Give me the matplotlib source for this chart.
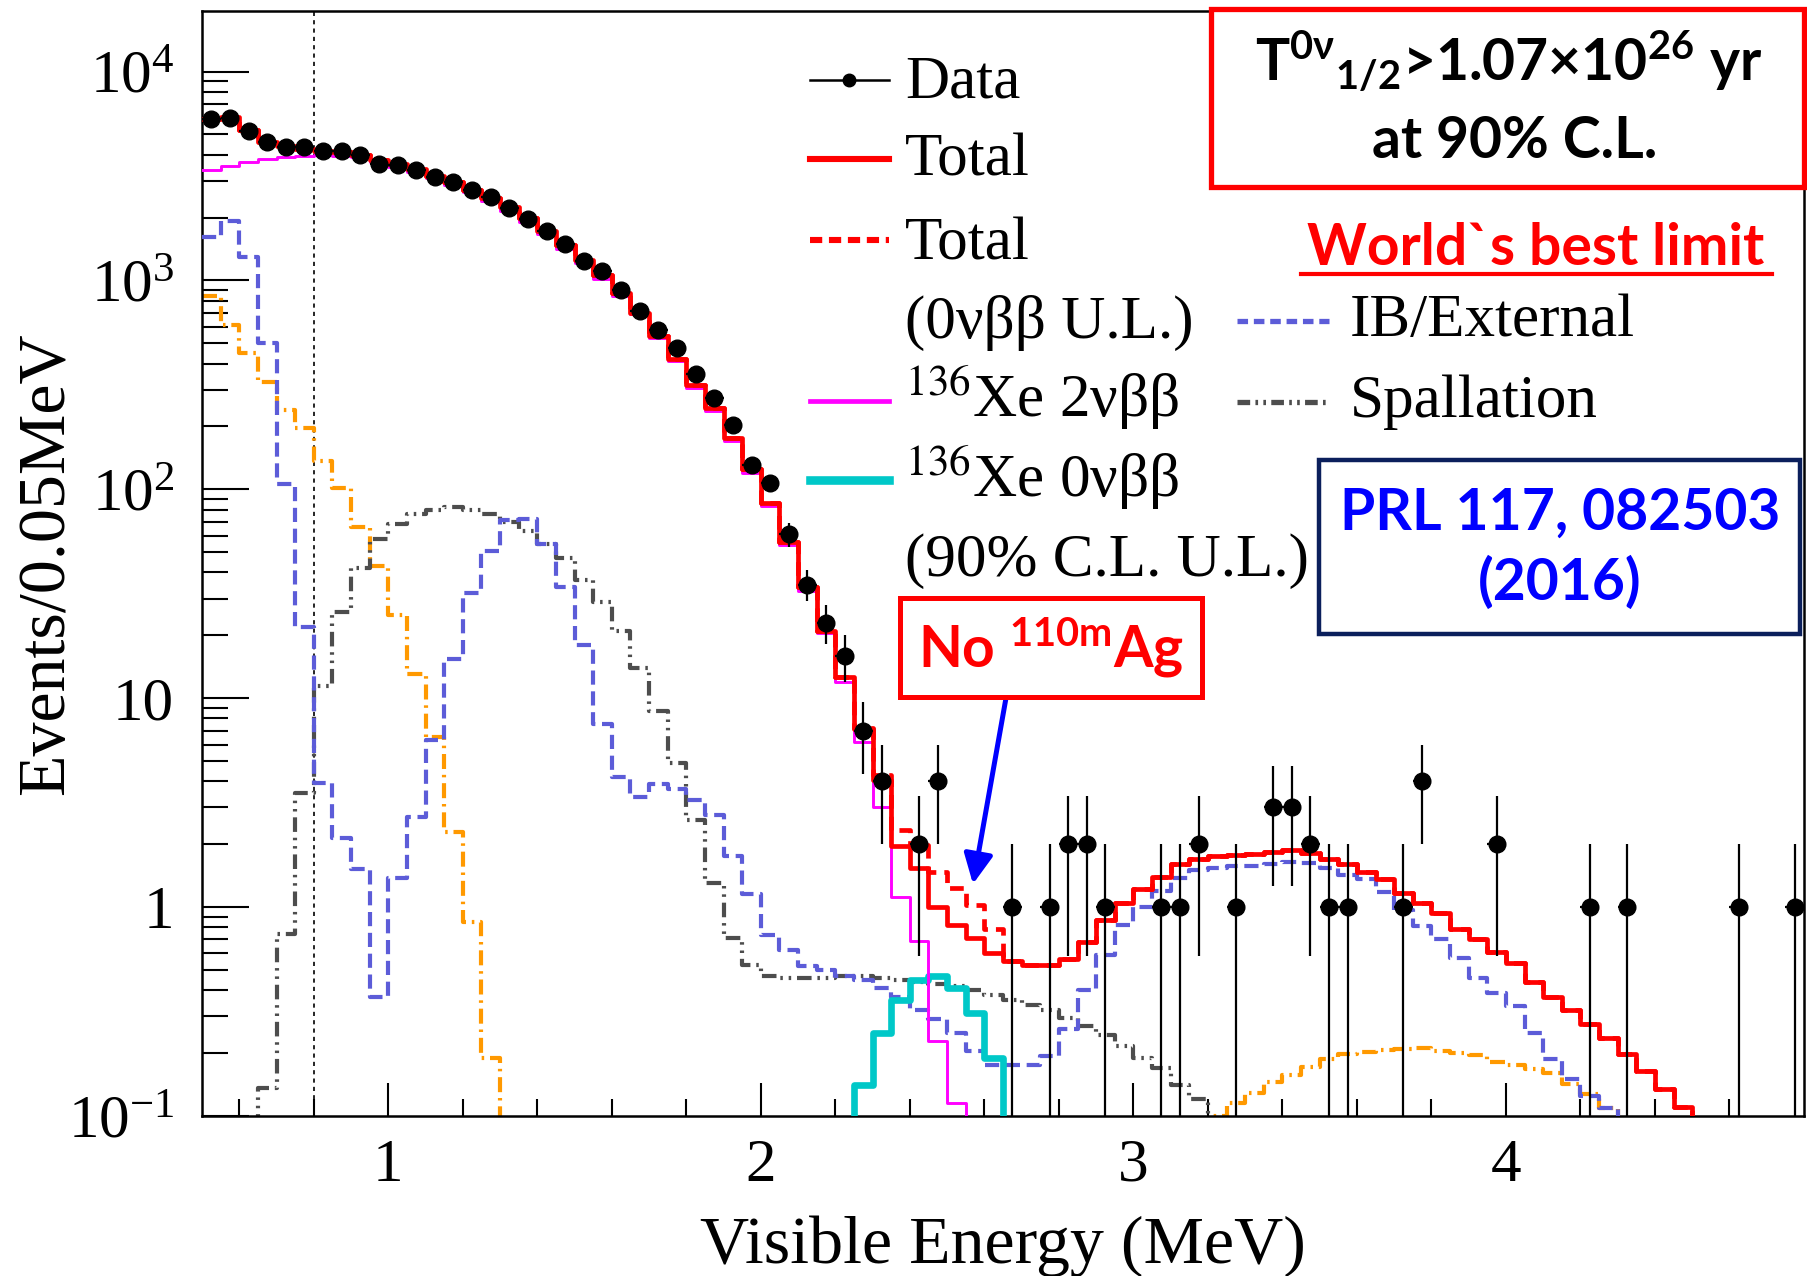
import numpy as np
import matplotlib.pyplot as plt
from matplotlib.lines import Line2D
from matplotlib.patches import Rectangle
from matplotlib.ticker import LogLocator, NullFormatter

plt.rcParams['font.family'] = ['Liberation Serif', 'DejaVu Serif']
plt.rcParams['mathtext.fontset'] = 'stix'

W, H = 1808, 1276

# --- binning ---
bin_width = 0.05
e_lo, e_hi = 0.5, 4.8

# --- data: counts per 0.05 MeV bin from 0.5 to 4.8 MeV ---
data_counts = [5930, 6010, 5220, 4590, 4370, 4340, 4180, 4160, 4000, 3620,
               3580, 3390, 3140, 2950, 2710, 2500, 2220, 1970, 1730, 1500,
               1240, 1110, 898, 718, 580, 474, 355, 275, 203, 131,
               107, 61, 35, 23, 16, 7, 4, 0, 2, 4,
               0, 0, 0, 1, 0, 1, 2, 2, 1, 0,
               0, 1, 1, 2, 0, 1, 0, 3, 3, 2,
               1, 1, 0, 0, 1, 4, 0, 0, 0, 2,
               0, 0, 0, 0, 1, 0, 1, 0, 0, 0,
               0, 0, 1, 0, 0, 1]

# --- model histograms (first bin edge, values) ---
total_start = 0.5
total_vals = [5900, 6050, 5250, 4600, 4400, 4250, 4180, 4120, 4000, 3780,
              3600, 3400, 3180, 2950, 2720, 2480, 2240, 1980, 1730, 1480,
              1260, 1060, 870, 700, 545, 421, 315, 246, 176, 125,
              86, 56, 34, 21, 12.7, 7.1, 4.05, 1.97, 1.54, 1.0,
              0.82, 0.71, 0.60, 0.55, 0.53, 0.53, 0.565, 0.68, 0.87, 1.05,
              1.22, 1.39, 1.6, 1.7, 1.75, 1.78, 1.8, 1.83, 1.87, 1.82,
              1.7, 1.6, 1.48, 1.37, 1.17, 1.05, 0.94, 0.79, 0.70, 0.61,
              0.54, 0.44, 0.37, 0.32, 0.276, 0.237, 0.199, 0.164, 0.134, 0.111]

xe2nu_start = 0.5
xe2nu_vals = [3380, 3540, 3680, 3800, 3880, 3950, 3980, 3960, 3880, 3700,
              3510, 3320, 3100, 2870, 2640, 2400, 2160, 1900, 1660, 1420,
              1210, 1020, 845, 690, 530, 410, 305, 238, 170, 120,
              83, 54, 32.5, 20.5, 12.0, 6.2, 3.0, 1.12, 0.69, 0.228,
              0.116]

xe0nu_start = 2.25
xe0nu_vals = [0.14, 0.25, 0.36, 0.45, 0.47, 0.41, 0.31, 0.19]

ib_start = 0.5
ib_vals = [1610, 1930, 1300, 500, 106, 22, 3.94, 2.14, 1.52, 0.37,
           1.38, 2.69, 6.3, 15.4, 31.8, 50.5, 71.4, 72, 54.7, 34,
           17.9, 7.5, 4.2, 3.38, 3.9, 3.66, 3.25, 2.75, 1.75, 1.15,
           0.735, 0.62, 0.52, 0.5, 0.47, 0.45, 0.41, 0.37, 0.32, 0.29,
           0.25, 0.204, 0.176, 0.176, 0.176, 0.193, 0.26, 0.40, 0.59, 0.82,
           1.0, 1.19, 1.38, 1.51, 1.54, 1.57, 1.57, 1.6, 1.64, 1.62,
           1.54, 1.43, 1.36, 1.18, 0.97, 0.81, 0.70, 0.57, 0.46, 0.39,
           0.335, 0.25, 0.187, 0.15, 0.124, 0.109]

spall_start = 0.65
spall_vals = [0.136, 0.74, 3.5, 11.5, 26, 42, 58,
              68, 76, 80, 82, 80, 76, 70, 63, 55, 47,
              37, 29, 21, 14, 8.7, 4.9, 2.6, 1.3, 0.71, 0.53,
              0.47, 0.46, 0.46, 0.46, 0.47, 0.47, 0.46, 0.45, 0.44, 0.43,
              0.42, 0.40, 0.38, 0.36, 0.34, 0.32, 0.295, 0.27, 0.245, 0.216,
              0.19, 0.17, 0.141, 0.12]

orange_lo_start = 0.5
orange_lo_vals = [841, 611, 448, 328, 240, 197, 137, 102, 66, 43,
                  25, 13, 6.5, 2.3, 0.85, 0.19]
orange_hi_start = 3.2
orange_hi_vals = [0.1, 0.115, 0.129, 0.145, 0.158, 0.172, 0.188, 0.197, 0.202, 0.208,
                  0.21, 0.211, 0.205, 0.2, 0.195, 0.182, 0.176, 0.167, 0.16, 0.143,
                  0.127, 0.109]

FLOOR = 1e-3  # off-scale level used to close histogram ends


def fx(px):
    return px / W


def fy(py):
    return 1 - py / H


def steps(start, vals):
    vals = np.asarray(vals, float)
    edges = start + bin_width * np.arange(len(vals) + 1)
    x = np.repeat(edges, 2)[1:-1]
    y = np.repeat(vals, 2)
    if edges[0] > e_lo + 1e-9:
        x = np.r_[edges[0], x]
        y = np.r_[FLOOR, y]
    if edges[-1] < e_hi - 1e-9:
        x = np.r_[x, edges[-1]]
        y = np.r_[y, FLOOR]
    return x, y


# total with the 0vbb upper limit added
total_ul = np.array(total_vals, float)
i0 = int(round((xe0nu_start - total_start) / bin_width))
total_ul[i0:i0 + len(xe0nu_vals)] += np.array(xe0nu_vals)

c_red = '#ff0000'
c_mag = '#ff00ff'
c_cyan = '#00c8c8'
c_blue = '#5c5cd8'
c_gray = '#4d4d4d'
c_orange = '#ff9900'

ls_blue = (0, (3.4, 1.6))
ls_red = (0, (2.9, 1.7))
ls_gray = (0, (3.5, 1.4, 0.6, 1.4, 0.6, 1.4))
ls_orange = (0, (3.6, 1.4, 0.6, 1.4))

fig = plt.figure(figsize=(W / 100, H / 100), dpi=100)
ax = fig.add_axes([fx(202), fy(1116), (1804 - 202) / W, (1116 - 11) / H])
ax.set_yscale('log')

ax.axvline(0.8, color='k', lw=1.2, ls=(0, (2.5, 2.5)), zorder=1)

ax.plot(*steps(orange_lo_start, orange_lo_vals), color=c_orange, lw=3.0, ls=ls_orange, zorder=2)
ax.plot(*steps(orange_hi_start, orange_hi_vals), color=c_orange, lw=3.0, ls=ls_orange, zorder=2)
ax.plot(*steps(spall_start, spall_vals), color=c_gray, lw=3.0, ls=ls_gray, zorder=2)
ax.plot(*steps(ib_start, ib_vals), color=c_blue, lw=3.0, ls=ls_blue, zorder=3)
ax.plot(*steps(xe0nu_start, xe0nu_vals), color=c_cyan, lw=4.8, zorder=4)
ax.plot(*steps(xe2nu_start, xe2nu_vals), color=c_mag, lw=2.1, zorder=5)
ax.plot(*steps(total_start, total_ul), color=c_red, lw=3.4, ls=ls_red, zorder=6)
ax.plot(*steps(total_start, total_vals), color=c_red, lw=3.4, zorder=7)

n = np.array(data_counts, float)
centers = e_lo + bin_width * (np.arange(len(n)) + 0.5)
m = n > 0
err = np.sqrt(n[m])
lower = np.minimum(err, n[m] - FLOOR)
ax.errorbar(centers[m], n[m], yerr=[lower, err], xerr=bin_width / 2, fmt='o',
            color='k', ms=12, elinewidth=1.6, capsize=0, zorder=10)

ax.set_xlim(e_lo, e_hi)
ax.set_ylim(0.1, 1.95e4)

ax.set_xticks([1, 2, 3, 4], labels=['1', '2', '3', '4'])
ax.set_xticks(np.arange(0.6, 4.79, 0.2), minor=True)
ax.set_yticks([0.1, 1, 10, 100, 1000, 10000],
              labels=[r'$\mathdefault{10^{-1}}$', '1', '10', r'$\mathdefault{10^{2}}$',
                      r'$\mathdefault{10^{3}}$', r'$\mathdefault{10^{4}}$'])
ax.yaxis.set_minor_locator(LogLocator(base=10, subs=np.arange(2, 10)))
ax.yaxis.set_minor_formatter(NullFormatter())
ax.tick_params(axis='both', which='both', direction='in', width=1.5, labelsize=44,
               top=False, right=False)
ax.tick_params(axis='y', which='major', length=34, pad=20)
ax.tick_params(axis='y', which='minor', length=19)
ax.tick_params(axis='x', which='major', length=24, pad=16)
ax.tick_params(axis='x', which='minor', length=12.5)
for s in ax.spines.values():
    s.set_linewidth(1.8)

ax.set_xlabel('Visible Energy (MeV)', fontsize=49)
ax.xaxis.label.set_va('baseline')
ax.xaxis.set_label_coords(0.5, (1116 - 1263) / 1105)
ax.set_ylabel('Events/0.05MeV', fontsize=49)
ax.yaxis.label.set_va('baseline')
ax.yaxis.set_label_coords((64 - 202) / 1602, 0.5)

# --- legend (drawn by hand, ROOT style) ---
lx0, lx1 = 810, 889
rx0, rx1 = 1237, 1329
fig.add_artist(Line2D([fx(lx0), fx(lx1)], [fy(80)] * 2, color='k', lw=1.8))
fig.add_artist(Line2D([fx((lx0 + lx1) / 2)], [fy(80)], color='k', marker='o', ms=9))
fig.add_artist(Line2D([fx(lx0), fx(lx1)], [fy(159)] * 2, color=c_red, lw=4.4))
fig.add_artist(Line2D([fx(lx0), fx(lx1)], [fy(240)] * 2, color=c_red, lw=4.4, ls=(0, (2.0, 1.1))))
fig.add_artist(Line2D([fx(lx0), fx(lx1)], [fy(401)] * 2, color=c_mag, lw=3.4))
fig.add_artist(Line2D([fx(lx0), fx(lx1)], [fy(480)] * 2, color=c_cyan, lw=6.2))
fig.add_artist(Line2D([fx(rx0), fx(rx1)], [fy(321)] * 2, color=c_blue, lw=3.8, ls=(0, (2.0, 1.1))))
fig.add_artist(Line2D([fx(rx0), fx(rx1)], [fy(402)] * 2, color=c_gray, lw=3.8,
                      ls=(0, (2.4, 1.0, 0.5, 1.0, 0.5, 1.0))))

leg_left = [('Data', 97), ('Total', 175), ('Total', 259), (u'(0\u03bd\u03b2\u03b2 U.L.)', 338),
            (u'$^{136}$Xe 2\u03bd\u03b2\u03b2', 417), (u'$^{136}$Xe 0\u03bd\u03b2\u03b2', 497),
            ('(90% C.L. U.L.)', 576)]
for txt, yb in leg_left:
    fig.text(fx(905), fy(yb), txt, fontsize=44, ha='left', va='baseline')
fig.text(fx(1350), fy(336), 'IB/External', fontsize=44, ha='left', va='baseline')
fig.text(fx(1350), fy(417), 'Spallation', fontsize=44, ha='left', va='baseline')


# --- annotation boxes ---
def box(x0, y0, x1, y1, color, lw):
    fig.add_artist(Rectangle((fx(x0), fy(y1)), (x1 - x0) / W, (y1 - y0) / H,
                             transform=fig.transFigure, facecolor='white',
                             edgecolor=color, lw=lw, zorder=20))


sans = dict(family=['Lato', 'DejaVu Sans'], weight='bold', fontsize=41, zorder=21,
            math_fontfamily='dejavusans')

box(1211, 9, 1804, 187, c_red, 3.8)
fig.text(fx(1509), fy(81), u'T$\\mathdefault{^{0\u03bd}{}_{1/2}}$>1.07\u00d710$\\mathdefault{^{26}}$ yr',
         ha='center', va='baseline', color='k', **sans)
fig.text(fx(1515), fy(158), 'at 90% C.L.', ha='center', va='baseline', color='k', **sans)

fig.text(fx(1536), fy(265), 'World`s best limit', ha='center', va='baseline', color=c_red, **sans)
fig.add_artist(Line2D([fx(1301), fx(1772)], [fy(274)] * 2, color=c_red, lw=3))

box(1319, 460, 1800, 634, '#0b1f5c', 3.2)
fig.text(fx(1560), fy(530), 'PRL 117, 082503', ha='center', va='baseline', color='#0000ff', **sans)
fig.text(fx(1560), fy(600), '(2016)', ha='center', va='baseline', color='#0000ff', **sans)

box(900, 598, 1202, 697, c_red, 3.6)
fig.text(fx(1051), fy(667), 'No $\\mathdefault{^{110m}}$Ag', ha='center', va='baseline',
         color=c_red, **sans)

ax.annotate('', xy=(973, H - 884), xycoords='figure pixels',
            xytext=(1006, H - 698), textcoords='figure pixels',
            arrowprops=dict(arrowstyle='-|>,head_length=0.45,head_width=0.22',
                            mutation_scale=40, lw=3.6, color='#0000ff',
                            shrinkA=0, shrinkB=0), zorder=22)

fig.savefig('out.png', dpi=100)
